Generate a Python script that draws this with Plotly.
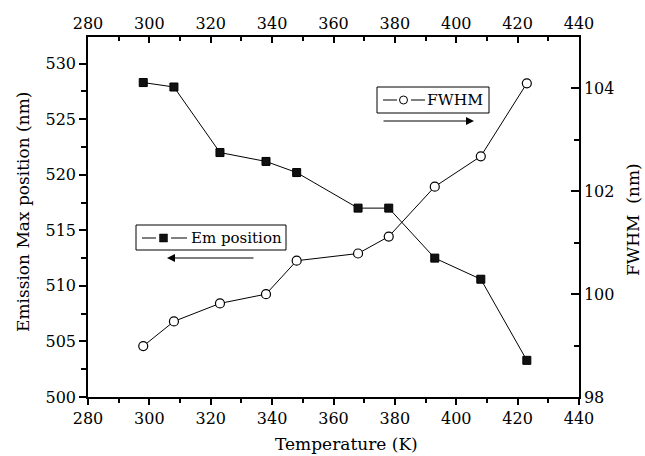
import plotly.graph_objects as go

# Measured data
temperature = [298, 308, 323, 338, 348, 368, 378, 393, 408, 423]
em_position = [528.3, 527.9, 522.0, 521.2, 520.2, 517.0, 517.0, 512.5, 510.6, 503.3]
fwhm = [98.99, 99.47, 99.82, 100.0, 100.65, 100.79, 101.12, 102.09, 102.68, 104.1]

x_ticks = [280, 300, 320, 340, 360, 380, 400, 420, 440]

FONT = "DejaVu Serif"
WIDTH, HEIGHT = 645, 456
L, R, T, B = 88, 66, 37, 59
PW, PH = WIDTH - L - R, HEIGHT - T - B


def px(x):
    """pixel column -> paper x"""
    return (x - L) / PW


def py(y):
    """pixel row -> paper y"""
    return (HEIGHT - B - y) / PH


fig = go.Figure()

fig.add_trace(go.Scatter(
    x=temperature, y=em_position, mode="lines+markers",
    name="Em position", xaxis="x", yaxis="y",
    line=dict(color="black", width=1),
    marker=dict(symbol="square", size=8, color="#111",
                line=dict(color="black", width=1)),
    showlegend=False,
))
fig.add_trace(go.Scatter(
    x=temperature, y=fwhm, mode="lines+markers",
    name="FWHM", xaxis="x2", yaxis="y2",
    line=dict(color="black", width=1),
    marker=dict(symbol="circle", size=9, color="white",
                line=dict(color="black", width=1.2)),
    showlegend=False,
))

tickfont = dict(family=FONT, size=16, color="black")
axis_common = dict(showgrid=False, zeroline=False, showline=True,
                   linecolor="black", linewidth=1.5, tickcolor="black",
                   tickwidth=1.5, tickfont=tickfont)

shapes = []
annotations = []

# Legend box: Em position
shapes.append(dict(type="rect", xref="paper", yref="paper",
                   x0=px(136), x1=px(286), y0=py(250), y1=py(225),
                   line=dict(color="black", width=1), fillcolor="white", layer="above"))
for a, b in [(142, 156), (171, 187)]:
    shapes.append(dict(type="line", xref="paper", yref="paper",
                       x0=px(a), x1=px(b), y0=py(238), y1=py(238),
                       line=dict(color="black", width=1), layer="above"))
shapes.append(dict(type="rect", xref="paper", yref="paper",
                   x0=px(159.5), x1=px(167.5), y0=py(242), y1=py(234),
                   line=dict(color="black", width=0.5), fillcolor="#111", layer="above"))
annotations.append(dict(text="Em position", xref="paper", yref="paper",
                        x=px(189), y=py(238), xanchor="left", yanchor="middle",
                        showarrow=False, font=dict(family=FONT, size=15, color="black")))
annotations.append(dict(text="", xref="paper", yref="paper",
                        x=px(167), y=py(258), ax=88, ay=0,
                        showarrow=True, arrowhead=2, arrowsize=1.6,
                        arrowwidth=1, arrowcolor="black"))

# Legend box: FWHM
shapes.append(dict(type="rect", xref="paper", yref="paper",
                   x0=px(377), x1=px(489), y0=py(113), y1=py(87),
                   line=dict(color="black", width=1), fillcolor="white", layer="above"))
for a, b in [(383, 397), (411, 425)]:
    shapes.append(dict(type="line", xref="paper", yref="paper",
                       x0=px(a), x1=px(b), y0=py(100), y1=py(100),
                       line=dict(color="black", width=1), layer="above"))
shapes.append(dict(type="circle", xref="paper", yref="paper",
                   x0=px(399.5), x1=px(407.5), y0=py(104), y1=py(96),
                   line=dict(color="black", width=1), fillcolor="white", layer="above"))
annotations.append(dict(text="FWHM", xref="paper", yref="paper",
                        x=px(425), y=py(100), xanchor="left", yanchor="middle",
                        showarrow=False, font=dict(family=FONT, size=15.5, color="black")))
annotations.append(dict(text="", xref="paper", yref="paper",
                        x=px(474), y=py(121), ax=-92, ay=0,
                        showarrow=True, arrowhead=2, arrowsize=1.6,
                        arrowwidth=1, arrowcolor="black"))

# Axis titles
title_font = dict(family=FONT, size=17, color="black")
annotations.append(dict(text="Temperature (K)", xref="paper", yref="paper",
                        x=px(346), y=py(444), xanchor="center", yanchor="middle",
                        showarrow=False, font=title_font))
annotations.append(dict(text="Emission Max position (nm)", xref="paper", yref="paper",
                        x=px(23), y=py(212), xanchor="center", yanchor="middle",
                        textangle=-90, showarrow=False, font=title_font))
annotations.append(dict(text="FWHM\u00a0 (nm)", xref="paper", yref="paper",
                        x=px(633), y=py(220), xanchor="center", yanchor="middle",
                        textangle=-90, showarrow=False, font=title_font))

fig.update_layout(
    width=WIDTH, height=HEIGHT,
    margin=dict(l=L, r=R, t=T, b=B),
    paper_bgcolor="white", plot_bgcolor="white",
    font=dict(family=FONT, color="black"),
    xaxis=dict(range=[280, 440], tickvals=x_ticks, ticks="outside", ticklen=6,
               minor=dict(dtick=10, tick0=280, ticks="outside", ticklen=4,
                          tickcolor="black", tickwidth=1.5),
               **axis_common),
    xaxis2=dict(range=[280, 440], tickvals=x_ticks, overlaying="x", side="top",
                matches="x", ticks="inside", ticklen=6,
                minor=dict(dtick=10, tick0=280, ticks="inside", ticklen=4,
                           tickcolor="black", tickwidth=1.5),
                **axis_common),
    yaxis=dict(range=[500, 532.4], dtick=5, tick0=500, ticks="outside", ticklen=7,
               minor=dict(dtick=2.5, tick0=500, ticks="outside", ticklen=5,
                          tickcolor="black", tickwidth=1.5),
               **axis_common),
    yaxis2=dict(range=[98, 105], dtick=2, tick0=98, overlaying="y", side="right",
                ticks="inside", ticklen=8,
                minor=dict(dtick=1, tick0=98, ticks="inside", ticklen=5,
                           tickcolor="black", tickwidth=1.5),
                **axis_common),
    shapes=shapes,
    annotations=annotations,
)

fig.write_html("out.html")
